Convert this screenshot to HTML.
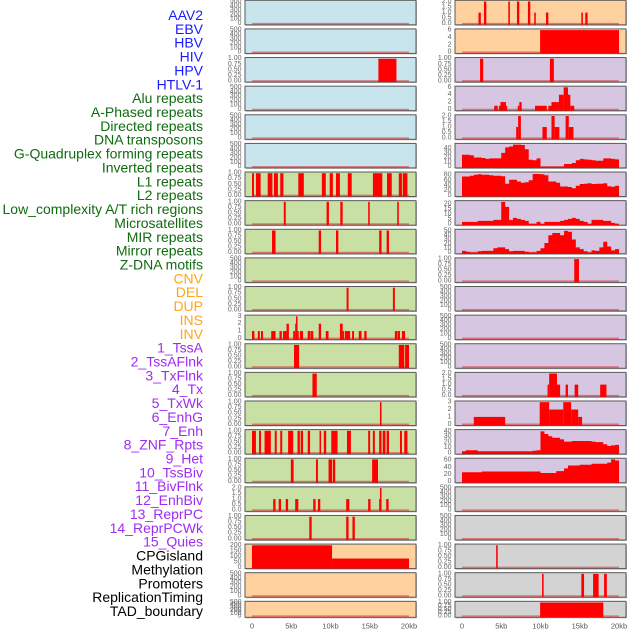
<!DOCTYPE html>
<html><head><meta charset="utf-8">
<style>
html,body{margin:0;padding:0;background:#fff;}
svg{display:block;font-family:"Liberation Sans",sans-serif;}
</style></head>
<body>
<svg id="chart" width="630" height="630" viewBox="0 0 630 630" xmlns="http://www.w3.org/2000/svg"></svg>
<script>
// ---- labels ----
const trackLabels = ["AAV2","EBV","HBV","HIV","HPV","HTLV-1","Alu repeats","A-Phased repeats","Directed repeats","DNA transposons","G-Quadruplex forming repeats","Inverted repeats","L1 repeats","L2 repeats","Low_complexity A/T rich regions","Microsatellites","MIR repeats","Mirror repeats","Z-DNA motifs","CNV","DEL","DUP","INS","INV","1_TssA","2_TssAFlnk","3_TxFlnk","4_Tx","5_TxWk","6_EnhG","7_Enh","8_ZNF_Rpts","9_Het","10_TssBiv","11_BivFlnk","12_EnhBiv","13_ReprPC","14_ReprPCWk","15_Quies","CPGisland","Methylation","Promoters","ReplicationTiming","TAD_boundary"];
const labelGroupSizes = [6,13,5,15,5];
const labelGroupColors = ["#1a1aff","#106b10","#ffa51a","#a02cf0","#000000"];
const xTickLabels = ["0","5kb","10kb","15kb","20kb"];
const xTickValues = [0,5,10,15,20];

// ---- segment data [startKb, endKb, value] ----
const segL3 = [[16.1,18.4,1]];
const segL7 = [[0,0.25,1],[0.5,1.1,1],[2.0,2.6,1],[2.8,3.3,1],[3.6,4.0,1],[5.9,6.6,1],[8.9,9.4,1],[9.9,10.3,1],[10.7,11.2,1],[12.2,12.7,1],[15.4,16.6,1],[17.2,17.8,1],[18.7,19.1,1],[19.2,19.8,1]];
const segL8 = [[4.05,4.3,1],[9.5,9.8,1],[11.25,11.55,1],[14.8,15.0,1],[18.5,18.7,1]];
const segL9 = [[2.55,3.0,1],[8.5,8.8,1],[10.7,11.0,1],[16.2,16.5,1],[17.15,17.45,1]];
const segL11 = [[12.05,12.3,1],[17.95,18.2,1]];
const segL12 = [[0,0.3,1],[0.75,1.0,1],[1.15,1.4,1],[2.45,3.0,1],[3.5,3.8,1],[3.95,4.4,1],[4.4,4.7,2],[5.25,5.5,1],[5.5,5.6,2],[5.6,5.8,3],[5.8,5.95,1],[6.1,6.5,1],[7.1,7.4,1],[7.45,7.8,1],[8.5,8.8,2],[9.4,9.75,1],[11.2,11.55,2],[11.55,11.75,1],[11.85,12.5,1],[12.75,13.0,1],[13.6,13.95,1],[14.3,14.6,1],[18.2,18.5,1],[18.55,18.85,1],[19.1,19.5,1]];
const segL13 = [[5.35,6.0,1],[18.7,19.4,1],[19.5,20.0,1]];
const segL14 = [[7.7,8.25,1]];
const segL15 = [[16.3,16.5,1]];
const segL16 = [[0,0.5,1],[0.9,1.15,1],[1.6,2.4,1],[2.9,3.15,1],[3.6,3.85,1],[4.6,5.25,1],[5.8,6.1,1],[6.2,6.5,1],[7.1,7.4,1],[8.6,8.8,1],[9.15,9.45,1],[10.1,10.9,1],[12.1,12.6,1],[14.8,15.05,1],[15.4,15.65,1],[16.2,16.5,1],[16.65,17.0,1],[17.15,17.45,1],[18.85,19.1,1],[19.4,19.8,1]];
const segL17 = [[4.95,5.3,1],[8.15,8.4,1],[9.75,10.2,1],[10.3,10.6,1],[15.3,16.05,1]];
const segL18 = [[2.7,3.0,1],[3.4,3.7,1],[4.3,4.6,1],[5.5,5.9,1],[7.8,8.1,1],[8.4,8.7,1],[12.0,12.4,1],[14.8,15.1,1],[16.2,16.3,1],[16.3,16.5,2],[17.1,17.4,1]];
const segL19 = [[7.3,7.6,1],[12.0,12.3,1],[12.8,13.1,1]];
const segL20 = [[0,10.2,200],[10.2,20,80]];
const segR1 = [[2.1,2.4,1],[2.8,3.1,2],[5.9,6.1,2],[7.0,7.3,2],[8.4,8.7,2],[9.2,9.4,1],[10.7,11.0,1],[15.2,15.4,1],[15.7,16.0,1]];
const segR2 = [[9.95,20,6]];
const segR3 = [[2.3,2.7,1],[11.2,11.7,1]];
const segR4 = [[4.1,4.55,1],[4.7,4.9,1],[4.9,5.6,2],[5.6,5.7,1],[7.1,7.3,1],[7.3,7.6,2],[9.3,10.8,1],[11.0,11.4,1],[11.4,12.35,2],[12.35,12.95,4],[12.95,13.5,6],[13.5,13.8,4],[13.8,14.3,1]];
const segR5 = [[6.9,7.15,1],[7.15,7.5,2],[10.25,10.8,1],[11.4,11.8,2],[11.8,12.4,1],[13.2,13.6,2],[13.6,14.2,1]];
const segR10 = [[14.3,14.9,1]];
const segR14 = [[10.9,11.1,1],[11.1,12.1,2],[12.1,12.5,1],[13.2,13.5,1],[14.35,14.8,1],[17.6,18.4,1]];
const segR15 = [[1.5,5.5,1],[9.9,11.1,3],[11.1,12.9,2],[12.9,13.9,3],[13.9,14.8,2],[14.8,15.3,1]];
const segR20 = [[4.35,4.55,1]];
const segR21 = [[10.2,10.4,1],[15.2,15.55,1],[16.7,17.4,1],[18.1,18.45,1]];
const segR22 = [[9.95,18.0,1]];

// ---- profile data (0.5kb bins, 0..20kb) ----
const profR6 = [26,26,25,20,20,19,17,18,18,18,30,42,44,48,48,47,38,15,14,18,0,0,0,0,0,0,6,6,8,14,17,16,15,14,13,13,18,18,17,16];
const profR7 = [75,75,78,82,84,82,82,80,78,78,76,46,62,62,55,50,52,60,85,85,84,80,55,55,50,35,35,33,28,38,45,46,48,45,46,46,48,36,34,38];
const profR8 = [2,2,2,2,3,3,3,3,4,4,22,17,4,6,5,4,3,0,0,2,0,2,2,2,2,3,4,5,6,5,3,2,0,4,4,4,3,3,1,0];
const profR9 = [4,2,0,0,3,4,4,4,10,12,12,8,3,4,4,4,2,0,0,4,10,22,40,45,45,40,50,48,30,12,8,3,0,5,4,12,25,14,5,8];
const profR16 = [3,5,5,5,3,3,3,3,3,3,3,3,3,3,3,3,3,3,4,5,40,35,31,28,28,25,21,21,22,22,22,22,22,21,20,20,16,13,14,15];
const profR17 = [26,26,26,26,26,28,28,28,28,28,28,28,28,28,28,28,28,28,28,28,24,24,24,24,29,29,37,45,45,45,47,47,47,50,50,50,50,53,62,59];

// ---- tick sets ----
const ticksEmpty = [0,100,200,300,400,500];
const ticksUnit = [0,0.25,0.5,0.75,1];
const ticksTwo = [0,0.5,1,1.5,2];
const ticksThree = [0,1,2,3];
const ticksSix = [0,2,4,6];
const ticksCpg = [0,50,100,150,200];
const ticksR6 = [0,10,20,30,40];
const ticksR7 = [0,20,40,60,80];
const ticksR8 = [0,5,10,15,20];
const ticksR9 = [0,10,20,30,40,50];
const ticksR16 = [0,10,20,30,40];
const ticksR17 = [0,20,40,60];

const BLUE="#c8e4ec",GREEN="#c8e0a4",ORANGE="#fed19f",PURPLE="#d6c6e1",GRAY="#d3d3d3";
const E={ticks:ticksEmpty,max:500,dec:0};
function P(bg,seg,ticks,max,dec,prof){return {bg,seg,ticks,max,dec,prof};}
const leftPanels=[
 P(BLUE,null,ticksEmpty,500,0),P(BLUE,null,ticksEmpty,500,0),P(BLUE,segL3,ticksUnit,1,2),
 P(BLUE,null,ticksEmpty,500,0),P(BLUE,null,ticksEmpty,500,0),P(BLUE,null,ticksEmpty,500,0),
 P(GREEN,segL7,ticksUnit,1,2),P(GREEN,segL8,ticksUnit,1,2),P(GREEN,segL9,ticksUnit,1,2),
 P(GREEN,null,ticksEmpty,500,0),P(GREEN,segL11,ticksUnit,1,2),P(GREEN,segL12,ticksThree,3,0),
 P(GREEN,segL13,ticksUnit,1,2),P(GREEN,segL14,ticksUnit,1,2),P(GREEN,segL15,ticksUnit,1,2),
 P(GREEN,segL16,ticksUnit,1,2),P(GREEN,segL17,ticksUnit,1,2),P(GREEN,segL18,ticksTwo,2,1),
 P(GREEN,segL19,ticksUnit,1,2),P(ORANGE,segL20,ticksCpg,200,0),P(ORANGE,null,ticksEmpty,500,0),
 P(ORANGE,null,ticksEmpty,500,0)];
const rightPanels=[
 P(ORANGE,segR1,ticksTwo,2,1),P(ORANGE,segR2,ticksSix,6,0),P(PURPLE,segR3,ticksUnit,1,2),
 P(PURPLE,segR4,ticksSix,6,0),P(PURPLE,segR5,ticksTwo,2,1),P(PURPLE,null,ticksR6,48,0,profR6),
 P(PURPLE,null,ticksR7,88,0,profR7),P(PURPLE,null,ticksR8,22,0,profR8),P(PURPLE,null,ticksR9,51,0,profR9),
 P(PURPLE,segR10,ticksUnit,1,2),P(PURPLE,null,ticksEmpty,500,0),P(PURPLE,null,ticksEmpty,500,0),
 P(PURPLE,null,ticksEmpty,500,0),P(PURPLE,segR14,ticksTwo,2,1),P(PURPLE,segR15,ticksThree,3,0),
 P(PURPLE,null,ticksR16,41,0,profR16),P(PURPLE,null,ticksR17,62,0,profR17),P(GRAY,null,ticksEmpty,500,0),
 P(GRAY,null,ticksEmpty,500,0),P(GRAY,segR20,ticksUnit,1,2),P(GRAY,segR21,ticksUnit,1,2),
 P(GRAY,segR22,ticksUnit,1,2)];

const NS="http://www.w3.org/2000/svg";
const svg=document.getElementById('chart');
function mk(tag,attrs,parent){const e=document.createElementNS(NS,tag);for(const k in attrs)e.setAttribute(k,attrs[k]);(parent||svg).appendChild(e);return e;}

// labels
let li=0;
labelGroupSizes.forEach((n,g)=>{for(let i=0;i<n;i++){
  const t=mk('text',{x:203,y:15+li*13.86,'text-anchor':'end','dominant-baseline':'central','font-size':14,fill:labelGroupColors[g]});
  t.textContent=trackLabels[li];
  
  
  li++;}});

function xScale(col,kb){return (col?462:252)+kb/20*157;}
function rowTop(r){return r*28.62+0.3;}
function rowH(r){return r===21?16:24.5;}

function drawPanel(col,r,p){
  const top=rowTop(r),H=rowH(r),x0=col?455:245,w=171;
  const g=mk('g',{});
  
  
  const bg=mk('rect',{x:x0+1,y:top+1,width:w,height:H,fill:'#b8b8b8'},g);
  
  
  const fr=mk('rect',{x:x0,y:top,width:w,height:H,fill:p.bg,stroke:'#5a5a5a','stroke-width':1},g);
  
  
  const y0=top+H-1.2, span=H-2.4;
  const ys=v=>y0-v/p.max*span;
  // ticks
  p.ticks.forEach(tv=>{
    const t=mk('text',{x:x0-3.5,y:ys(tv),'text-anchor':'end','dominant-baseline':'central','font-size':7,fill:'#666'},g);
    t.textContent=tv.toFixed(p.dec);
    
    
  });
  // baseline
  const bl=mk('line',{x1:xScale(col,0),x2:xScale(col,20),y1:y0,y2:y0,stroke:'rgba(220,40,40,0.55)','stroke-width':1.5},g);
  
  
  if(p.seg){p.seg.forEach(s=>{
    const yt=Math.max(top,ys(s[2]));
    const b=mk('rect',{x:xScale(col,s[0]),y:yt,width:Math.max(1.2,xScale(col,s[1])-xScale(col,s[0])),height:top+H-yt,fill:'#ff0000'},g);
    
    
  });}
  if(p.prof){
    let d='M'+xScale(col,0)+','+(top+H);
    p.prof.forEach((v,i)=>{const yt=Math.max(top,ys(v));d+=' L'+xScale(col,i*0.5)+','+yt+' L'+xScale(col,i*0.5+0.5)+','+yt;});
    d+=' L'+xScale(col,20)+','+(top+H)+' Z';
    const a=mk('path',{d:d,fill:'#ff0000'},g);
    
    
  }
}
leftPanels.forEach((p,r)=>drawPanel(0,r,p));
rightPanels.forEach((p,r)=>drawPanel(1,r,p));

// x axis labels
[0,1].forEach(col=>{xTickValues.forEach((v,i)=>{
  const t=mk('text',{x:xScale(col,v),y:626,'text-anchor':'middle','dominant-baseline':'central','font-size':7.5,fill:'#555'});
  t.textContent=xTickLabels[i];
  
  
});});
</script>
</body></html>
